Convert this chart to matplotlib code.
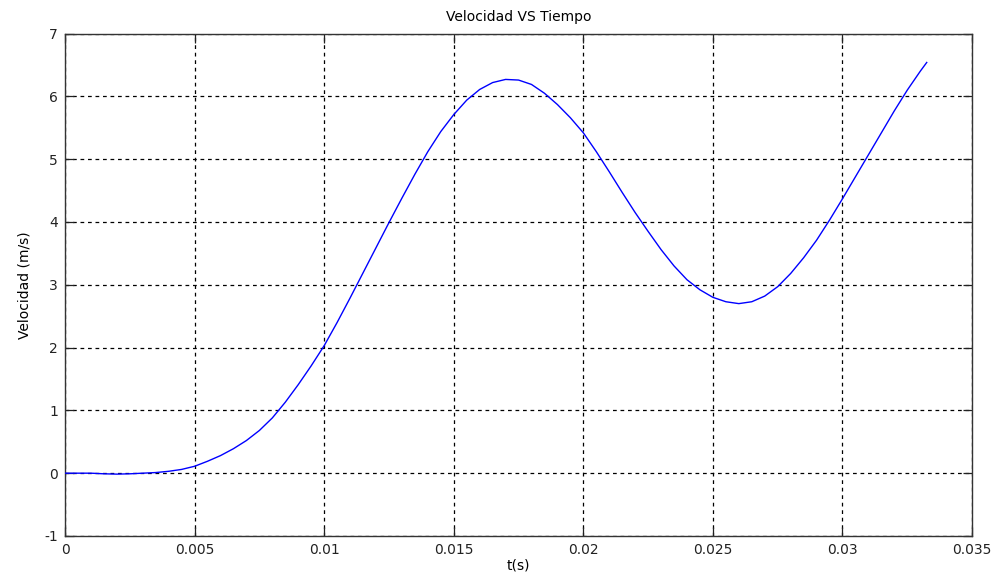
import matplotlib
matplotlib.use("Agg")
import matplotlib.pyplot as plt

# valeurs
t = [0.0, 0.0005, 0.001, 0.0015, 0.002, 0.0025, 0.003, 0.0035, 0.004, 0.0045,
     0.005, 0.0055, 0.006, 0.0065, 0.007, 0.0075, 0.008, 0.0085, 0.009, 0.0095,
     0.010, 0.0105, 0.011, 0.0115, 0.012, 0.0125, 0.013, 0.0135, 0.014, 0.0145,
     0.015, 0.0155, 0.016, 0.0165, 0.017, 0.0175, 0.018, 0.0185, 0.019, 0.0195,
     0.020, 0.0205, 0.021, 0.0215, 0.022, 0.0225, 0.023, 0.0235, 0.024, 0.0245,
     0.025, 0.0255, 0.026, 0.0265, 0.027, 0.0275, 0.028, 0.0285, 0.029, 0.0295,
     0.030, 0.0305, 0.031, 0.0315, 0.032, 0.0325, 0.033, 0.03325]
v = [0.0, 0.0, 0.0, -0.01, -0.015, -0.01, 0.0, 0.01, 0.03, 0.06,
     0.11, 0.19, 0.28, 0.39, 0.52, 0.68, 0.88, 1.13, 1.41, 1.71,
     2.03, 2.40, 2.79, 3.19, 3.59, 3.99, 4.38, 4.76, 5.12, 5.44,
     5.71, 5.94, 6.11, 6.22, 6.27, 6.26, 6.19, 6.05, 5.87, 5.66,
     5.42, 5.12, 4.80, 4.47, 4.15, 3.85, 3.56, 3.30, 3.08, 2.92,
     2.80, 2.73, 2.70, 2.73, 2.82, 2.97, 3.18, 3.43, 3.71, 4.03,
     4.37, 4.72, 5.07, 5.42, 5.77, 6.10, 6.40, 6.54]

xticks = [0, 0.005, 0.01, 0.015, 0.02, 0.025, 0.03, 0.035]
xlabels = ["0", "0.005", "0.01", "0.015", "0.02", "0.025", "0.03", "0.035"]
yticks = [-1, 0, 1, 2, 3, 4, 5, 6, 7]

plt.rcParams['font.family'] = ['DejaVu Sans']
plt.rcParams['axes.unicode_minus'] = False

fig = plt.figure(figsize=(9.97, 5.79), dpi=100)
ax = fig.add_axes([0.0652, 0.0743, 0.9098, 0.8677])

ax.plot(t, v, color=(0, 0, 1), lw=1.0, zorder=3)

ax.set_xlim(0, 0.035)
ax.set_ylim(-1, 7)
ax.set_xticks(xticks)
ax.set_xticklabels(xlabels)
ax.set_yticks(yticks)

ax.grid(True, color='black', linestyle=(0, (3, 3)), lw=0.9)
ax.tick_params(direction='in', length=6.5, width=0.9, top=True, right=True,
               labelsize=10, colors='#222222', pad=5)
for s in ax.spines.values():
	s.set_color('#333333')
	s.set_linewidth(1.0)

ax.set_title("Velocidad VS Tiempo", fontsize=10, pad=9)
ax.set_xlabel("t(s)", fontsize=10, labelpad=1)
ax.set_ylabel("Velocidad (m/s)", fontsize=10, labelpad=9)

fig.savefig("out.png", dpi=100)
